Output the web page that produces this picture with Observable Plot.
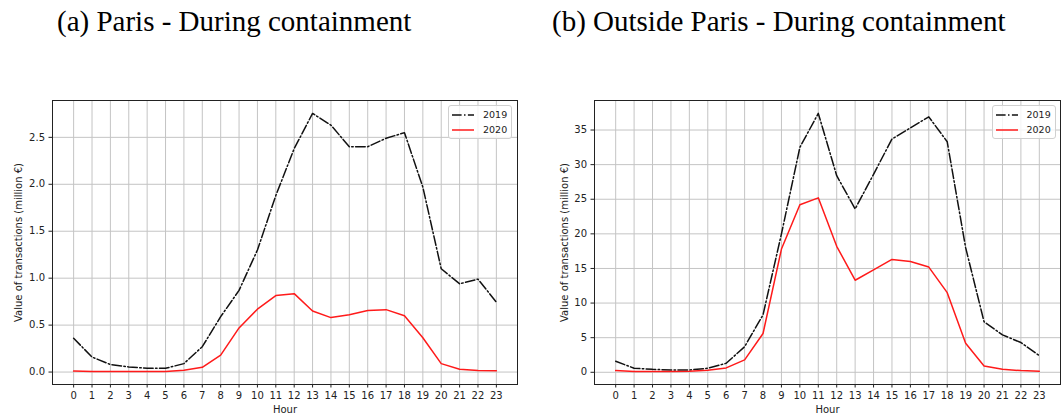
<!DOCTYPE html>
<html>
<head>
<meta charset="utf-8">
<script src="https://cdn.jsdelivr.net/npm/d3@7"></script>
<script src="https://cdn.jsdelivr.net/npm/@observablehq/plot@0.6"></script>
<style>
  html, body { margin: 0; padding: 0; background: #fff; }
  #wrap { position: relative; width: 1061px; height: 417px; overflow: hidden; }
  .title { position: absolute; font-family: "Liberation Serif", "Times New Roman", serif; font-size: 29px; line-height: 29px; color: #000; white-space: nowrap; }
  .chart { position: absolute; top: 0; }
  .legend { position: absolute; width: 64px; height: 34px; border: 1px solid #d0d0d0; border-radius: 3px; background: rgba(255,255,255,0.8); box-sizing: border-box; font-family: "DejaVu Sans", sans-serif; font-size: 9.5px; color: #222; }
  .legend .row { position: absolute; left: 3px; height: 12px; width: 60px; }
  .legend svg { position: absolute; left: 0; top: 0; }
  .legend span { position: absolute; left: 31px; top: 0; line-height: 12px; }
</style>
</head>
<body>
<div id="wrap"></div>
<script>
// ---- data ----
const hours = [0, 1, 2, 3, 4, 5, 6, 7, 8, 9, 10, 11, 12, 13, 14, 15, 16, 17, 18, 19, 20, 21, 22, 23];
const paris2019 = [0.36, 0.16, 0.08, 0.055, 0.04, 0.04, 0.09, 0.27, 0.59, 0.87, 1.30, 1.88, 2.38, 2.755, 2.63, 2.40, 2.40, 2.49, 2.55, 1.97, 1.10, 0.94, 0.99, 0.745];
const paris2020 = [0.01, 0.005, 0.005, 0.005, 0.005, 0.005, 0.02, 0.05, 0.18, 0.47, 0.67, 0.815, 0.835, 0.65, 0.58, 0.61, 0.655, 0.665, 0.60, 0.365, 0.09, 0.03, 0.017, 0.014];
const outside2019 = [1.6, 0.58, 0.43, 0.34, 0.34, 0.58, 1.3, 3.7, 8.3, 20.0, 32.5, 37.4, 28.4, 23.6, 28.6, 33.7, 35.3, 36.9, 33.3, 18.0, 7.3, 5.4, 4.3, 2.4];
const outside2020 = [0.24, 0.1, 0.1, 0.1, 0.15, 0.3, 0.63, 1.8, 5.6, 17.8, 24.2, 25.2, 18.2, 13.3, 14.8, 16.3, 16.0, 15.2, 11.5, 4.2, 0.9, 0.43, 0.24, 0.15];
const parisTicks = [0.0, 0.5, 1.0, 1.5, 2.0, 2.5];
const outsideTicks = [0, 5, 10, 15, 20, 25, 30, 35];
const seriesNames = ["2019", "2020"];
const titles = ["(a) Paris - During containment", "(b) Outside Paris - During containment"];
const yLabel = "Value of transactions (million €)";
const xLabel = "Hour";

const DASH = "9.6,2.4,1.5,2.4";
const wrap = document.getElementById("wrap");

function chart(s2019, s2020, yTicks, fmt, opts) {
  const rows = hours.map((h, i) => ({hour: h, a: s2019[i], b: s2020[i]}));
  const all = s2019.concat(s2020);
  const lo = d3.min(all), hi = d3.max(all), m = (hi - lo) * 0.05;
  const grid = {stroke: "#c4c4c4", strokeOpacity: 1, strokeWidth: 1};
  return Plot.plot({
    width: opts.width,
    height: 417,
    marginTop: 100,
    marginBottom: 33,
    marginLeft: opts.marginLeft,
    marginRight: opts.marginRight,
    style: {fontFamily: "DejaVu Sans, sans-serif", fontSize: "10px", color: "#222", background: "transparent"},
    x: {domain: [-1.15, 24.15]},
    y: {domain: [lo - m, hi + m]},
    marks: [
      Plot.gridX(hours, grid),
      Plot.gridY(yTicks, grid),
      Plot.axisX(hours, {tickSize: 3.5, tickPadding: 3.5, tickFormat: d => String(d), label: xLabel, labelAnchor: "center", labelArrow: "none", labelOffset: 28, fill: "#222"}),
      Plot.axisY(yTicks, {tickSize: 3.5, tickPadding: 4, tickFormat: fmt, label: yLabel, labelAnchor: "center", labelArrow: "none", labelOffset: opts.labelOffset, fill: "#222"}),
      Plot.frame({stroke: "#222", strokeWidth: 1}),
      Plot.line(rows, {x: "hour", y: "a", stroke: "#111", strokeWidth: 1.5, strokeDasharray: DASH}),
      Plot.line(rows, {x: "hour", y: "b", stroke: "#ff1a1a", strokeWidth: 1.5})
    ]
  });
}

function legend(left, top) {
  const lg = document.createElement("div");
  lg.className = "legend";
  lg.style.left = left + "px";
  lg.style.top = top + "px";
  const styles = [{stroke: "#111", dash: DASH}, {stroke: "#ff1a1a", dash: null}];
  seriesNames.forEach((name, i) => {
    const row = document.createElement("div");
    row.className = "row";
    row.style.top = (3 + i * 15.3) + "px";
    const svg = d3.create("svg").attr("width", 24).attr("height", 12);
    svg.append("line").attr("x1", 0).attr("x2", 22).attr("y1", 6).attr("y2", 6)
      .attr("stroke", styles[i].stroke).attr("stroke-width", 1.5)
      .attr("stroke-dasharray", styles[i].dash);
    row.appendChild(svg.node());
    const sp = document.createElement("span");
    sp.textContent = name;
    row.appendChild(sp);
    lg.appendChild(row);
  });
  wrap.appendChild(lg);
}

function title(text, left) {
  const t = document.createElement("div");
  t.className = "title";
  t.style.left = left + "px";
  t.style.top = "6.5px";
  t.textContent = text;
  wrap.appendChild(t);
}

const c1 = chart(paris2019, paris2020, parisTicks, d => d.toFixed(1), {width: 530, marginLeft: 52, marginRight: 13, labelOffset: 38});
c1.classList.add("chart"); c1.style.left = "0px";
wrap.appendChild(c1);
const c2 = chart(outside2019, outside2020, outsideTicks, d => String(d), {width: 531, marginLeft: 64, marginRight: 1, labelOffset: 34});
c2.classList.add("chart"); c2.style.left = "530px";
wrap.appendChild(c2);

title(titles[0], 57);
title(titles[1], 552);
legend(448, 105);
legend(991.5, 105);
</script>
</body>
</html>
